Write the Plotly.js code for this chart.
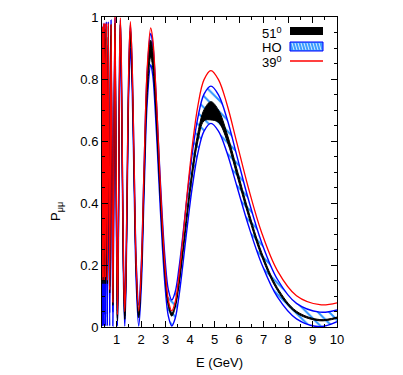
<!DOCTYPE html>
<html>
<head>
<meta charset="utf-8">
<script src="https://cdn.plot.ly/plotly-3.0.1.min.js"></script>
<style>html,body{margin:0;padding:0;background:#fff;}#chart{width:403px;height:375px;}</style>
</head>
<body>
<div id="chart"></div>
<script>
// Energy grid (GeV)
const energy = [0.40,0.42,0.44,0.465,0.49,0.52,0.547,0.58,0.62,0.66,0.715,0.77,
  0.806,0.845,0.885,0.93,0.977,1.03,1.058,1.087,1.117,1.15,1.19,1.233,1.28,1.33,
  1.381,1.436,1.495,1.56,1.633,1.713,1.802,1.9,2.003,2.117,2.245,2.39,
  2.472,2.559,2.653,2.754,2.864,2.982,3.11,3.25,
  3.39,3.542,3.709,3.892,4.094,4.318,4.568,4.85,
  5.158,5.51,5.91,6.376,6.92,7.564,8.345,9.3,10];

// 39 degree curve (red)
const p39 = [.15,.97,.16,.98,.15,.98,.16,.98,.15,.98,.12,.975,
  .528,.08,.54,1.0,.52,.04,.18,.519,.857,.997,.859,.524,.188,.05,
  .187,.518,.849,.985,.849,.519,.188,.052,.185,.509,.832,.965,
  .93,.832,.683,.509,.334,.185,.087,.052,
  .081,.165,.291,.44,.588,.714,.798,.827,
  .798,.717,.594,.45,.305,.182,.101,.072,.078];

// HO band (blue)
const hoUpper = [.04,.97,.04,.98,.04,.98,.04,.985,.04,.985,.045,.99,
  .52,.05,.523,.995,.523,.05,.187,.52,.853,.99,.854,.525,.196,.06,
  .194,.518,.841,.975,.843,.523,.202,.07,.198,.509,.819,.947,
  .914,.821,.681,.517,.353,.213,.12,.087,
  .113,.188,.3,.432,.564,.676,.751,.777,
  .749,.671,.552,.413,.273,.154,.076,.048,.055];
const hoLower = [.003,.88,.003,.89,.003,.9,.003,.9,.003,.91,.003,.92,
  .462,.003,.467,.93,.467,.003,.138,.464,.79,.925,.79,.464,.138,.003,
  .134,.452,.769,.9,.769,.452,.134,.003,.126,.424,.722,.845,
  .813,.722,.585,.424,.263,.126,.035,.003,
  .028,.098,.205,.33,.455,.562,.632,.657,
  .632,.561,.454,.329,.204,.097,.026,.001,.017];

// 51 degree band (black)
const p51Upper = [.16,.95,.16,.96,.16,.96,.16,.965,.16,.97,.13,.975,
  .53,.09,.53,.98,.505,.03,.168,.503,.837,.975,.838,.505,.172,.035,
  .169,.495,.821,.955,.821,.498,.174,.04,.169,.483,.796,.925,
  .892,.797,.653,.485,.317,.173,.078,.045,
  .071,.145,.256,.386,.516,.627,.701,.727,
  .7,.624,.51,.376,.241,.127,.051,.024,.032];
const p51Lower = [.14,.92,.14,.925,.14,.93,.14,.93,.14,.935,.11,.94,
  .51,.07,.51,.945,.483,.02,.154,.48,.806,.94,.806,.483,.159,.025,
  .156,.473,.789,.92,.79,.475,.16,.03,.153,.45,.747,.87,
  .838,.748,.612,.453,.293,.157,.067,.035,
  .062,.133,.24,.365,.49,.6,.665,.668,
  .66,.6,.49,.36,.228,.118,.045,.02,.028];

const xTicks = [1,2,3,4,5,6,7,8,9,10];
const yTicks = [0,0.2,0.4,0.6,0.8,1];
const yTickText = ['0','0.2','0.4','0.6','0.8','1'];
const legendLabels = ['51<sup>0</sup>','HO','39<sup>0</sup>'];

const FONT = 'Liberation Sans, Arial, sans-serif';
const hatch = '#2a93ff';

const traces = [
  {x: energy, y: hoLower, mode: 'lines', line: {color: '#0000ff', width: 1.4, shape: 'spline', smoothing: 1}},
  {x: energy, y: hoUpper, mode: 'lines', line: {color: '#0000ff', width: 1.4, shape: 'spline', smoothing: 1},
   fill: 'tonexty', fillcolor: 'rgba(0,0,0,0)',
   fillpattern: {shape: '\\', fgcolor: hatch, bgcolor: 'rgba(255,255,255,0)', size: 8, solidity: 0.25}},
  {x: energy, y: p51Lower, mode: 'lines', line: {color: '#000000', width: 1, shape: 'spline', smoothing: 1}},
  {x: energy, y: p51Upper, mode: 'lines', line: {color: '#000000', width: 1, shape: 'spline', smoothing: 1},
   fill: 'tonexty', fillcolor: '#000000'},
  {x: energy, y: p39, mode: 'lines', line: {color: '#ff0000', width: 1.3, shape: 'spline', smoothing: 1}}
];

// legend built manually (text to the left of the key, as in the original)
const L = 102, R = 337, T = 17, B = 327;
const px = v => (v - L) / (R - L);
const py = v => (B - v) / (B - T);
const shapes = [
  {type: 'rect', xref: 'paper', yref: 'paper', x0: px(290), x1: px(323), y0: py(35), y1: py(27), fillcolor: '#000', line: {width: 0}},
  {type: 'rect', xref: 'paper', yref: 'paper', x0: px(290), x1: px(323), y0: py(51), y1: py(42), fillcolor: '#3c9dff', line: {color: '#0000ff', width: 1}},
  {type: 'line', xref: 'paper', yref: 'paper', x0: px(290), x1: px(323), y0: py(61), y1: py(61), line: {color: '#ff0000', width: 1.6}}
];
for (let s = 292; s < 322; s += 3) {
  shapes.push({type: 'line', xref: 'paper', yref: 'paper', x0: px(s), x1: px(s + 2), y0: py(43), y1: py(50), line: {color: '#ffffff', width: 0.8}});
}
const annotations = [
  {xref: 'paper', yref: 'paper', x: px(284), y: py(33), xanchor: 'right', yanchor: 'middle', text: legendLabels[0], showarrow: false, font: {family: FONT, size: 13, color: '#000'}},
  {xref: 'paper', yref: 'paper', x: px(284), y: py(47), xanchor: 'right', yanchor: 'middle', text: legendLabels[1], showarrow: false, font: {family: FONT, size: 13, color: '#000'}},
  {xref: 'paper', yref: 'paper', x: px(284), y: py(62), xanchor: 'right', yanchor: 'middle', text: legendLabels[2], showarrow: false, font: {family: FONT, size: 13, color: '#000'}},
  {xref: 'paper', yref: 'paper', x: px(56), y: py(212), xanchor: 'center', yanchor: 'middle', textangle: -90, text: 'P<sub>μμ</sub>', showarrow: false, font: {family: FONT, size: 13, color: '#000'}}
];

const layout = {
  width: 403, height: 375,
  margin: {l: L, r: 403 - R, t: T, b: 375 - B},
  paper_bgcolor: '#fff', plot_bgcolor: '#fff',
  showlegend: false,
  font: {family: FONT, size: 13, color: '#000'},
  xaxis: {
    range: [0.4, 10], tickmode: 'array', tickvals: xTicks, ticktext: xTicks.map(String),
    ticks: 'inside', ticklen: 6, tickcolor: '#000', tickwidth: 1,
    minor: {dtick: 0.5, ticks: 'inside', ticklen: 3, tickcolor: '#000', showgrid: false},
    showline: true, linecolor: '#000', linewidth: 1, mirror: 'allticks',
    showgrid: false, zeroline: false,
    tickfont: {family: FONT, size: 13},
    title: {text: 'E (GeV)', font: {family: FONT, size: 13}, standoff: 12}
  },
  yaxis: {
    range: [0, 1], tickmode: 'array', tickvals: yTicks, ticktext: yTickText,
    ticks: 'inside', ticklen: 6, tickcolor: '#000', tickwidth: 1,
    minor: {dtick: 0.05, ticks: 'inside', ticklen: 3, tickcolor: '#000', showgrid: false},
    showline: true, linecolor: '#000', linewidth: 1, mirror: 'allticks',
    showgrid: false, zeroline: false,
    tickfont: {family: FONT, size: 13}
  },
  shapes: shapes,
  annotations: annotations
};

Plotly.newPlot('chart', traces, layout, {staticPlot: true, displayModeBar: false});
</script>
</body>
</html>
